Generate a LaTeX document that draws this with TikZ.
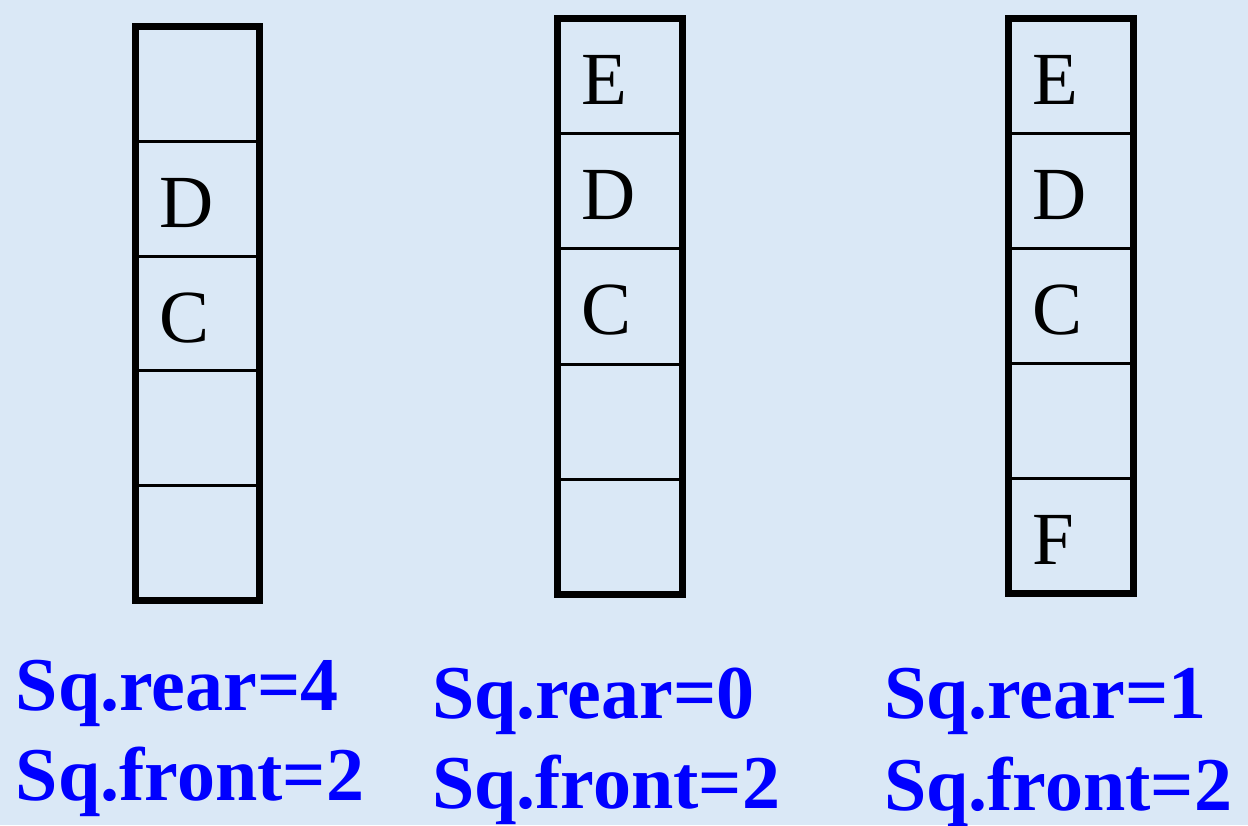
\documentclass[tikz,border=0pt]{standalone}
\usepackage{fontspec}
\setmainfont{Liberation Serif}
\definecolor{bgblue}{RGB}{218,232,246}
\definecolor{lblblue}{RGB}{0,0,255}
\tikzset{
  cellbox/.style={draw=black, line width=3pt, inner sep=0pt, outer sep=0pt, rectangle},
  frame/.style={draw=black, line width=7pt},
  letter/.style={anchor=base west, inner sep=0pt, outer sep=0pt, font=\fontsize{75}{75}\selectfont, text=black},
  qlabel/.style={anchor=base west, inner sep=0pt, outer sep=0pt, font=\fontsize{76}{76}\selectfont\bfseries, text=lblblue}
}
\newcommand{\qcol}[5]{%
  \pgfmathsetmacro\hh{(#5-#4)/5}%
  \pgfmathsetmacro\cx{(#2+#3)/2}%
  \pgfmathsetmacro\ww{#3-#2}%
  \foreach \j in {1,...,5} {
    \node[cellbox, minimum width=\ww pt, minimum height=\hh pt] (#1c\j) at (\cx,{#4+(\j-0.5)*\hh}) {};
  }
  \draw[frame] (#1c1.north west) rectangle (#1c5.south east);
}
\begin{document}
\begin{tikzpicture}[x=1pt,y=-1pt]
\fill[bgblue] (0,0) rectangle (1248,825);
\useasboundingbox (0,0) rectangle (1248,825);
% columns
\qcol{qa}{135.5}{259.5}{26.5}{600.5}
\qcol{qb}{557.5}{682.5}{18.5}{594.5}
\qcol{qc}{1008.5}{1133.5}{18.5}{593.5}
% letters
\node[letter] (qaD) at ([xshift=23.5pt,yshift=-86pt]qac2.north west) {D};
\node[letter] (qaC) at ([xshift=23.5pt,yshift=-86pt]qac3.north west) {C};
\node[letter] (qbE) at ([xshift=23.5pt,yshift=-86pt]qbc1.north west) {E};
\node[letter] (qbD) at ([xshift=23.5pt,yshift=-86pt]qbc2.north west) {D};
\node[letter] (qbC) at ([xshift=23.5pt,yshift=-86pt]qbc3.north west) {C};
\node[letter] (qcE) at ([xshift=23.5pt,yshift=-86pt]qcc1.north west) {E};
\node[letter] (qcD) at ([xshift=23.5pt,yshift=-86pt]qcc2.north west) {D};
\node[letter] (qcC) at ([xshift=23.5pt,yshift=-86pt]qcc3.north west) {C};
\node[letter] (qcF) at ([xshift=23.5pt,yshift=-86pt]qcc5.north west) {F};
% labels
\node[qlabel] (la1) at (16,710) {Sq.rear=4};
\node[qlabel] (la2) at (16,800) {Sq.front=2};
\node[qlabel] (lb1) at (432,718) {Sq.rear=0};
\node[qlabel] (lb2) at (432,808) {Sq.front=2};
\node[qlabel] (lc1) at (884,718) {Sq.rear=1};
\node[qlabel] (lc2) at (884,810) {Sq.front=2};
\end{tikzpicture}
\end{document}
